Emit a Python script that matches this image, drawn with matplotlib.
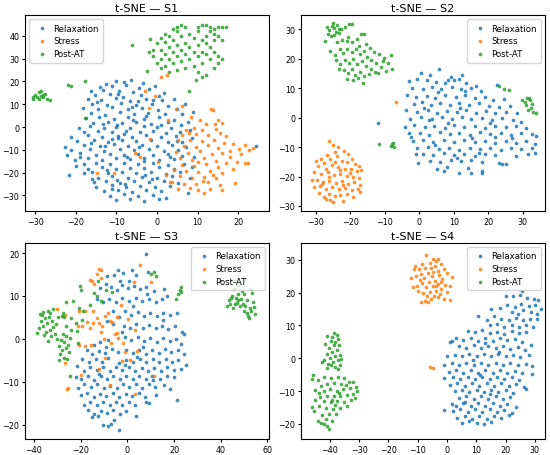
import matplotlib.pyplot as plt
import numpy as np

# t-SNE embeddings, one list of (x, y) per class and subject
labels = ["Relaxation", "Stress", "Post-AT"]
colors = ["tab:blue", "tab:orange", "tab:green"]

s1_relax = [
    (-10.2, 20.4), (-8.1, 19.7), (-6.3, 20.8), (-3.4, 19.2), (-12.5, 18.9), (-14.1, 17.6), (-11.0, 17.9), (-7.6, 18.3),
    (-4.5, 17.1), (-0.6, 18.2), (-16.3, 15.8), (-13.2, 16.4), (-9.4, 16.0), (-5.8, 15.5), (-2.1, 16.7), (1.8, 15.1),
    (-15.2, 13.9), (-11.7, 14.6), (-8.3, 13.2), (-3.9, 14.1), (0.4, 13.6), (-17.1, 12.2), (-13.8, 11.8), (-10.1, 12.7),
    (-6.7, 11.5), (-2.8, 12.4), (1.3, 11.9), (4.2, 12.3), (-16.0, 10.1), (-12.4, 9.6), (-8.8, 10.5), (-5.2, 9.8),
    (-1.3, 10.3), (2.7, 9.4), (6.8, 10.2), (-18.3, 8.4), (-14.6, 7.7), (-11.2, 8.6), (-7.1, 7.9), (-3.7, 8.3),
    (0.2, 7.6), (4.8, 8.1), (8.9, 6.7), (-16.2, 6.1), (-12.7, 5.4), (-9.2, 6.4), (-5.6, 5.7), (-2.2, 6.3),
    (1.9, 5.5), (6.1, 5.9), (-17.6, 3.8), (-14.2, 4.3), (-10.6, 3.5), (-7.2, 4.2), (-3.1, 3.7), (0.6, 4.4),
    (4.1, 3.3), (7.6, 2.4), (-15.7, 1.8), (-12.1, 2.4), (-8.6, 1.6), (-5.1, 2.2), (-1.6, 1.5), (2.6, 2.1),
    (5.9, 0.8), (-19.2, -0.3), (-16.6, 0.4), (-13.1, -0.5), (-10.1, 0.2), (-6.6, -0.4), (-3.2, 0.3), (0.1, -0.2),
    (3.4, -0.6), (8.1, -1.2), (-18.1, -2.2), (-14.6, -1.6), (-11.1, -2.4), (-7.6, -1.8), (-4.1, -2.3), (-1.1, -1.7),
    (2.1, -2.5), (5.6, -2.1), (-21.2, -4.3), (-17.1, -3.7), (-13.6, -4.4), (-9.6, -3.8), (-6.1, -4.2), (-2.6, -3.6),
    (1.1, -4.5), (4.6, -3.9), (8.6, -4.8), (-19.6, -6.2), (-15.6, -5.6), (-12.1, -6.4), (-8.6, -5.7), (-5.1, -6.3),
    (-1.6, -5.8), (2.6, -6.4), (6.1, -6.6), (-22.6, -8.6), (-18.1, -7.8), (-14.1, -8.4), (-10.6, -7.6), (-7.1, -8.3),
    (-3.6, -7.7), (0.1, -8.5), (3.6, -7.9), (7.1, -8.8), (-21.1, -10.3), (-16.6, -9.6), (-13.1, -10.4), (-9.1, -9.8),
    (-5.6, -10.2), (-2.1, -9.6), (1.6, -10.5), (5.1, -9.9), (-22.1, -12.2), (-19.1, -11.6), (-15.1, -12.4), (-11.6, -11.8),
    (-8.1, -12.3), (-4.6, -11.7), (-1.1, -12.5), (2.6, -11.9), (6.1, -12.6), (9.1, -13.2), (-20.1, -14.3), (-17.1, -13.7),
    (-13.6, -14.4), (-10.1, -13.8), (-6.6, -14.2), (-3.1, -13.6), (0.6, -14.5), (4.1, -13.9), (-18.1, -16.2), (-15.1, -15.6),
    (-11.6, -16.4), (-8.1, -15.8), (-4.6, -16.3), (-1.1, -15.7), (2.6, -16.5), (6.6, -16.1), (-17.1, -18.3), (-13.6, -17.7),
    (-10.1, -18.4), (-6.6, -17.8), (-3.1, -18.2), (0.6, -17.6), (4.1, -18.5), (8.6, -17.4), (-21.6, -21.0), (-16.1, -19.6),
    (-12.1, -20.4), (-8.6, -19.8), (-5.1, -20.3), (-1.6, -19.7), (2.1, -20.5), (5.6, -19.9), (-14.6, -22.2), (-11.1, -21.6),
    (-7.1, -22.4), (-3.6, -21.8), (0.1, -22.3), (3.6, -21.7), (8.1, -22.6), (-15.6, -24.3), (-12.6, -23.7), (-9.1, -24.4),
    (-5.6, -23.8), (-2.1, -24.2), (1.6, -23.6), (5.1, -24.5), (-15.1, -26.2), (-11.1, -25.6), (-7.6, -26.4), (-4.1, -25.8),
    (-0.6, -26.3), (3.1, -25.7), (-13.1, -28.3), (-9.6, -27.7), (-6.1, -28.4), (-2.6, -27.8), (1.1, -28.2), (7.6, -28.9),
    (-11.6, -30.2), (-8.1, -29.6), (-4.6, -30.4), (-1.1, -29.8), (2.1, -31.3), (-10.1, -32.1), (-6.6, -31.6), (-3.1, -32.4),
    (0.6, -31.7), (24.3, -8.4), (-9.5, -5.0), (-3.0, -21.0), (-6.0, 3.0), (-11.0, -27.0), (-18.0, -20.0), (-20.0, -17.0),
    (-16.0, -23.0), (-9.8, 1.1), (-4.4, -8.9), (-12.8, -8.2), (-7.4, -13.1), (0.9, 0.9), (-2.6, 5.0), (-9.9, -23.1),
    (-14.9, 10.9), (-9.7, 14.4), (-6.1, 8.9), (-0.9, 11.7), (-13.4, 1.2), (-8.2, -2.9), (-16.3, -7.1), (-3.3, -15.1),
    (3.3, -13.2), (-19.1, -13.0), (-12.4, -18.9), (-7.9, -25.2), (-1.3, -23.0), (4.9, -6.0), (-11.2, -5.1), (-4.8, 11.3),
]
s1_stress = [
    (13.2, 8.1), (13.7, 7.6), (8.3, 4.6), (10.6, 3.1), (15.1, 3.2), (16.1, 1.8), (12.1, 1.5), (9.1, -0.5),
    (11.1, -1.3), (14.6, -0.8), (7.2, -1.2), (6.1, -3.4), (9.6, -3.1), (12.6, -3.6), (15.6, -2.8), (17.1, -4.1),
    (5.1, -5.9), (8.1, -5.5), (11.1, -6.2), (14.1, -5.7), (16.6, -6.8), (6.6, -8.3), (9.6, -8.8), (12.6, -8.1),
    (15.1, -9.3), (18.6, -7.6), (20.1, -9.5), (21.6, -8.1), (22.6, -10.1), (23.6, -9.1), (20.6, -11.8), (4.6, -10.8),
    (7.6, -11.3), (10.6, -10.6), (13.6, -11.9), (16.1, -11.2), (18.1, -13.1), (5.6, -13.8), (8.6, -14.3), (11.6, -13.6),
    (14.6, -14.8), (17.1, -15.9), (19.6, -15.2), (21.6, -15.8), (22.3, -15.6), (6.1, -16.6), (9.1, -17.1), (12.1, -16.4),
    (15.1, -17.6), (4.1, -18.9), (7.1, -19.4), (10.1, -19.8), (13.1, -19.1), (16.1, -20.3), (18.6, -18.6), (5.6, -21.6),
    (8.6, -22.3), (11.6, -21.8), (14.6, -22.6), (3.6, -24.1), (6.6, -24.8), (9.6, -25.1), (12.6, -24.3), (15.6, -25.6),
    (19.1, -24.6), (5.1, -27.3), (10.1, -27.8), (11.6, -29.1), (13.1, -27.2), (16.1, -27.5), (8.1, -26.8),
    (-2.9, 15.6), (-2.1, 8.3), (-0.5, 13.4), (1.1, 21.9), (2.4, 22.9), (4.6, 7.8), (6.1, 9.4), (-10.6, -20.2),
    (-14.7, -20.2), (-4.1, -13.0), (-5.4, -11.5), (2.1, -21.0), (3.2, -24.0), (0.3, -15.5), (-1.8, -5.2), (2.8, 3.0),
    (10.2, -15.4), (13.9, -20.9), (7.9, -2.6), (17.9, -10.4), (11.3, -23.5), (14.3, 1.4),
]
s1_post = [
    (2, 41), (4, 43), (5, 44), (6, 45), (7, 44), (5, 42), (3, 40), (1, 39), (0, 37), (2, 37.5), (4, 38), (6, 40),
    (8, 41), (9, 39), (7, 37), (5, 36), (3, 35), (1, 34), (2, 32), (4, 33), (6, 34), (8, 35), (10, 36), (11, 38),
    (12, 40), (10, 42), (10, 44), (11, 45), (12, 45), (13, 44), (14, 43), (15, 44), (16, 44), (17, 44), (14, 41),
    (13, 42), (15, 40), (16, 38), (14, 38), (12, 37), (13, 35), (11, 33), (9, 33), (7, 32), (5, 31), (3, 30),
    (1, 30), (-1, 31), (-2, 33), (0, 28), (2, 27), (4, 28), (6, 29), (8, 30), (10, 31), (12, 32), (14, 33),
    (15, 31), (16, 30), (13, 30), (11, 28), (9, 27), (7, 26), (5, 25), (3, 24), (1, 26), (10, 24), (11, 22),
    (12, 23), (14, 26), (15, 28), (-1.7, 38.5), (-6.2, 35.8), (-2.4, 24.4), (-0.9, 33.9), (9.5, 20.6), (7.8, 15.8),
    (-30.5, 13.0), (-30.0, 14.0), (-29.5, 13.0), (-29.0, 15.5), (-28.5, 16.0), (-28.0, 14.0), (-28.0, 13.0),
    (-27.0, 12.5), (-26.5, 12.0), (-27.5, 14.5), (-29.0, 12.5), (-30.5, 12.5), (-28.5, 13.5),
    (-21.2, 18.0), (-22.0, 18.5), (-17.8, 20.3), (-17.7, 3.9),
]

s2_relax = [
    (0.4, 15.1), (3.1, 14.6), (5.6, 16.3), (9.1, 13.9), (12.3, 14.3), (11.6, 13.1), (-3.1, 12.4), (-0.6, 13.1),
    (2.1, 12.6), (4.9, 12.1), (7.6, 11.6), (10.1, 12.9), (13.6, 11.8), (16.4, 10.6), (-2.1, 10.1), (1.1, 9.6),
    (3.8, 10.4), (6.4, 9.8), (9.4, 10.3), (12.1, 9.6), (14.9, 10.1), (17.9, 8.9), (22.6, 10.9), (-3.6, 7.6),
    (-0.9, 6.9), (2.1, 7.4), (4.6, 6.8), (7.4, 7.6), (10.6, 6.9), (13.4, 7.5), (16.1, 6.6), (19.1, 7.1),
    (21.4, 5.9), (24.6, 6.4), (-1.6, 4.6), (0.9, 5.3), (3.4, 4.2), (6.1, 4.9), (8.9, 4.3), (11.6, 5.1),
    (14.4, 4.4), (17.4, 4.9), (20.1, 3.8), (23.1, 3.6), (26.4, 3.9), (-3.9, 2.4), (-0.6, 1.9), (2.4, 2.6),
    (5.1, 1.6), (7.9, 2.3), (10.9, 1.8), (13.6, 2.5), (16.6, 1.6), (19.4, 2.1), (22.1, 1.4), (25.1, 1.9),
    (28.4, 1.6), (-2.6, -0.4), (0.6, 0.3), (3.6, -0.6), (6.6, 0.1), (9.4, -0.5), (12.4, 0.2), (15.1, -0.6),
    (18.1, -0.1), (21.1, -0.7), (24.1, -0.3), (27.1, -0.8), (29.6, -1.6), (-4.1, -3.1), (-1.4, -2.6), (1.6, -3.3),
    (4.4, -2.7), (7.4, -3.4), (10.1, -2.6), (13.1, -3.2), (16.1, -2.7), (19.1, -3.4), (22.1, -2.8), (25.1, -3.3),
    (28.1, -3.0), (30.9, -3.6), (-3.1, -5.4), (0.1, -5.1), (2.9, -5.8), (5.9, -4.9), (8.9, -5.6), (11.6, -5.2),
    (14.6, -5.9), (17.6, -5.0), (20.6, -5.7), (23.6, -5.1), (26.6, -5.8), (29.6, -5.3), (32.6, -5.6), (33.9, -6.1),
    (-1.9, -8.1), (1.1, -7.6), (4.1, -8.4), (7.1, -7.7), (10.1, -8.3), (13.1, -7.6), (16.1, -8.4), (19.1, -7.8),
    (22.1, -8.5), (25.1, -7.9), (28.1, -8.6), (31.1, -8.1), (33.6, -8.9), (-0.6, -10.4), (2.6, -10.1), (5.6, -10.8),
    (8.6, -10.2), (11.6, -10.9), (14.6, -10.3), (17.6, -10.8), (20.6, -10.4), (23.6, -10.9), (26.6, -10.3), (29.6, -10.8),
    (32.6, -10.4), (1.1, -12.3), (4.1, -12.8), (7.1, -12.1), (10.1, -12.7), (13.1, -12.2), (16.1, -12.9), (19.1, -12.3),
    (22.1, -12.6), (28.1, -12.9), (31.6, -12.4), (33.6, -12.1), (-0.4, -15.3), (3.1, -14.6), (6.1, -15.1), (9.1, -14.3),
    (12.1, -14.9), (15.1, -14.4), (18.1, -15.1), (23.1, -15.3), (24.1, -15.9), (25.1, -15.6), (5.1, -17.6), (8.1, -16.9),
    (11.6, -18.9), (14.1, -17.1), (15.1, -18.7), (18.1, -18.1), (18.3, -18.9), (7.1, -18.1), (-12.1, -1.8),
    (1.5, 3.4), (8.3, -1.9), (15.4, -6.9), (20.4, -1.7), (4.7, -9.4), (11.9, 3.3), (26.9, -6.9), (-2.4, -6.7),
    (5.3, 8.8), (10.8, -13.7), (17.2, -12.0), (21.9, -6.6), (2.9, -0.9), (13.3, 9.0), (8.2, 12.9), (-0.9, -12.2),
]
s2_stress = [
    (-26.1, -8.1), (-25.1, -9.4), (-23.6, -10.1), (-21.9, -11.2), (-20.6, -12.4), (-24.6, -11.6), (-26.9, -12.8),
    (-28.6, -14.1), (-30.1, -14.6), (-27.6, -15.3), (-25.9, -13.9), (-23.9, -13.1), (-22.4, -14.6), (-20.9, -15.1),
    (-19.4, -14.2), (-18.6, -15.9), (-17.6, -16.6), (-29.4, -16.6), (-27.1, -17.3), (-25.4, -16.1), (-23.6, -16.9),
    (-21.6, -17.3), (-19.9, -17.6), (-18.1, -18.1), (-16.9, -17.9), (-30.6, -18.6), (-28.4, -19.1), (-26.6, -18.6),
    (-24.9, -19.6), (-22.9, -19.1), (-21.1, -19.9), (-19.1, -20.1), (-17.6, -20.6), (-31.1, -21.3), (-29.6, -21.1),
    (-27.9, -21.9), (-26.1, -21.4), (-24.1, -22.1), (-22.4, -21.6), (-20.6, -22.4), (-18.9, -21.9), (-17.3, -22.8),
    (-30.6, -23.6), (-28.9, -23.1), (-27.1, -24.1), (-25.4, -23.6), (-23.4, -24.4), (-21.6, -23.9), (-19.6, -24.6),
    (-17.9, -24.1), (-17.1, -25.4), (-29.1, -25.6), (-27.6, -26.9), (-26.1, -26.1), (-24.6, -26.6), (-22.9, -26.4),
    (-20.9, -26.1), (-19.1, -26.9), (-25.9, -28.1), (-25.1, -28.6), (-22.1, -28.3), (-27.1, -27.6), (-6.9, 5.2),
    (-24.4, -15.0), (-20.2, -18.8), (-26.3, -20.2), (-22.0, -23.0), (-28.2, -22.6), (-23.0, -17.8),
]
s2_post = [
    (-27.3, 26.1), (-26.6, 28.3), (-26.1, 29.6), (-25.4, 31.2), (-24.8, 30.4), (-23.9, 31.5), (-23.2, 30.1),
    (-24.2, 29.1), (-25.6, 27.6), (-24.7, 27.9), (-23.4, 28.6), (-22.6, 29.9), (-26.8, 30.7), (-25.1, 32.1),
    (-20.3, 31.8), (-19.6, 31.9), (-21.5, 30.8), (-23.9, 25.6), (-22.4, 26.2), (-21.1, 25.9), (-19.4, 25.7),
    (-20.6, 27.3), (-18.1, 26.5), (-16.9, 28.3), (-16.1, 28.2), (-17.6, 24.4), (-15.4, 24.9), (-14.2, 23.7),
    (-13.1, 22.1), (-11.6, 21.6), (-10.3, 20.2), (-8.3, 21.1), (-9.1, 18.6), (-7.9, 16.4), (-9.6, 15.8),
    (-11.2, 17.1), (-25.9, 22.6), (-24.6, 21.3), (-23.1, 23.1), (-22.1, 21.8), (-20.9, 23.4), (-19.6, 22.1),
    (-18.4, 23.1), (-17.1, 21.4), (-16.1, 22.5), (-15.1, 20.4), (-13.9, 19.6), (-12.6, 18.4), (-24.1, 19.4),
    (-22.9, 18.1), (-21.6, 19.6), (-20.3, 18.6), (-19.1, 19.9), (-18.1, 18.1), (-16.6, 19.1), (-15.4, 17.6),
    (-14.1, 16.4), (-12.9, 15.6), (-23.4, 16.6), (-21.9, 16.1), (-20.6, 15.1), (-19.4, 16.6), (-18.6, 14.6),
    (-17.1, 15.6), (-16.1, 14.1), (-14.6, 14.9), (-21.1, 13.1), (-19.1, 12.8), (-16.3, 11.6), (-17.9, 13.4),
    (-12.1, 15.1), (-10.6, 19.1), (-11.6, -9.1), (-8.3, -9.6), (-7.6, -8.6), (-7.9, -9.1), (-7.4, -10.1),
    (23.1, 10.6), (24.6, 9.6), (26.1, 9.2), (29.9, 6.1), (30.6, 5.3), (31.4, 6.5), (32.1, 5.8), (31.1, 4.2),
    (32.3, 3.4), (31.6, 2.6), (32.9, 1.9), (33.8, 1.4), (32.6, 4.6), (31.9, 6.8),
]

s3_relax = [
    (7.9, 19.7), (-4.1, 16.1), (-5.6, 14.9), (-3.1, 13.6), (-1.9, 15.4), (0.6, 13.4), (3.6, 14.9), (8.9, 15.6),
    (-8.6, 14.6), (1.9, 16.1), (-11.6, 11.9), (-9.1, 12.8), (-6.9, 12.1), (-4.6, 11.5), (-2.4, 12.6), (0.1, 11.8),
    (2.9, 12.4), (5.6, 11.6), (8.1, 12.2), (11.4, 11.1), (15.9, 11.6), (-13.1, 9.4), (-10.6, 8.6), (-7.9, 9.4),
    (-4.9, 8.7), (-2.1, 9.6), (0.9, 8.9), (3.6, 9.6), (6.4, 8.8), (9.1, 9.4), (12.1, 8.6), (14.9, 9.3),
    (17.1, 9.9), (-6.1, 6.4), (-3.6, 5.1), (-0.9, 6.4), (1.6, 5.6), (4.4, 6.3), (7.1, 5.4), (9.9, 6.1),
    (12.6, 5.3), (15.4, 6.1), (18.1, 5.6), (21.1, 6.1), (-8.6, 4.1), (-5.9, 3.4), (-1.6, 3.1), (1.1, 2.6),
    (3.9, 3.4), (6.6, 2.6), (9.4, 3.3), (12.1, 2.5), (14.9, 3.1), (17.6, 2.4), (20.4, 3.1), (23.6, 1.6),
    (24.1, 1.1), (-14.1, -1.4), (-11.6, -0.6), (-8.1, -0.3), (-1.1, 0.4), (1.6, -0.3), (4.4, 0.5), (7.1, -0.4),
    (9.9, 0.3), (12.6, -0.6), (15.4, 0.2), (18.1, -0.5), (20.9, 0.1), (23.1, -1.1), (-17.1, -2.6), (-14.9, -3.4),
    (-12.1, -2.7), (-9.4, -3.2), (-6.6, -2.4), (-3.9, -3.1), (-0.6, -2.6), (2.4, -3.3), (5.1, -2.5), (7.9, -3.4),
    (10.6, -2.6), (13.4, -3.3), (16.1, -2.4), (18.9, -3.1), (21.6, -2.6), (24.4, -3.4), (-19.4, -4.6), (-16.4, -5.4),
    (-13.6, -4.6), (-10.9, -5.3), (-8.1, -4.4), (-3.4, -5.6), (-0.4, -4.8), (2.4, -5.4), (5.4, -4.6), (8.1, -5.3),
    (10.9, -4.6), (13.6, -5.4), (16.4, -4.7), (19.1, -5.3), (21.9, -4.8), (25.1, -6.1), (-21.4, -6.3), (-18.6, -7.4),
    (-15.9, -6.6), (-13.1, -7.3), (-10.4, -6.6), (-7.6, -7.4), (-4.9, -6.6), (-2.1, -7.3), (0.6, -6.5), (3.4, -7.4),
    (6.1, -6.7), (8.9, -7.5), (11.6, -6.8), (14.4, -7.4), (17.1, -6.6), (19.9, -7.3), (23.1, -7.1), (-22.1, -8.9),
    (-19.6, -9.4), (-16.9, -8.6), (-14.1, -9.5), (-11.4, -8.7), (-8.6, -9.3), (-5.9, -8.6), (-3.1, -9.4), (-0.4, -8.7),
    (2.4, -9.3), (5.1, -8.6), (7.9, -9.4), (10.6, -8.7), (14.1, -9.3), (16.9, -8.6), (20.1, -8.9), (-21.1, -11.4),
    (-18.4, -10.6), (-15.6, -11.3), (-12.9, -10.5), (-10.1, -11.4), (-7.4, -10.9), (-4.6, -11.5), (-1.9, -10.6), (0.9, -11.3),
    (3.6, -10.5), (6.4, -11.4), (9.1, -10.6), (11.9, -11.2), (15.6, -10.8), (18.1, -11.6), (-19.9, -13.1), (-17.1, -12.6),
    (-14.4, -13.4), (-11.6, -12.7), (-8.9, -13.3), (-6.1, -12.6), (-3.4, -13.4), (-0.6, -12.7), (2.1, -13.3), (4.9, -12.6),
    (7.6, -13.4), (12.1, -13.1), (21.1, -14.1), (-18.6, -15.4), (-15.9, -14.6), (-13.1, -15.3), (-10.4, -14.6), (-7.6, -15.4),
    (-4.9, -14.7), (-2.1, -15.4), (0.6, -14.6), (3.4, -15.3), (7.9, -14.6), (9.4, -14.9), (-16.9, -16.6), (-14.1, -17.4),
    (-11.4, -16.7), (-8.6, -17.3), (-5.9, -16.6), (-3.1, -17.4), (-0.4, -16.7), (3.6, -17.9), (-15.1, -18.1), (-12.4, -17.9),
    (-10.4, -20.1), (-8.1, -20.3), (-7.1, -19.9), (-3.6, -21.3), (-5.6, -18.9), (2.6, 7.6), (-2.4, 1.6), (6.9, -1.9),
    (11.1, -9.6), (-9.3, -1.9), (15.3, 4.4), (-1.1, -6.1), (4.3, -4.1), (-12.3, -8.1), (8.4, 10.4),
]
s3_stress = [
    (-12.1, 16.3), (-11.4, 16.1), (-12.9, 15.1), (-11.1, 14.3), (-15.9, 13.7), (-15.1, 13.5), (-14.4, 12.9), (5.6, 17.1),
    (10.3, 13.3), (2.7, 13.3), (-30.3, 6.9), (-26.7, 5.6), (-20.5, 6.4), (-14.5, 6.4), (-14.5, 3.7), (-10.9, 3.1),
    (-7.3, 4.1), (-9.5, 5.4), (-4.4, 1.4), (-3.8, 0.3), (-1.9, -0.9), (-21.0, 2.9), (-19.5, 3.0), (-20.5, -1.3),
    (-15.6, -1.3), (-26.7, -5.5), (-26.0, -11.6), (-25.4, -11.4), (-19.8, -8.3), (4.1, -2.8), (1.3, -5.0), (11.3, -8.7),
    (3.4, -12.7), (-7.3, -10.8), (-12.1, -6.9), (0.1, 4.6), (3.1, 2.1), (-6.4, 3.9), (-11.1, 1.6), (-17.4, 3.9),
    (-13.1, 4.9), (-6.9, -0.9), (-1.1, -3.1), (-9.6, -4.4), (-4.4, 5.2), (-2.6, 7.9), (-18.1, -1.6), (-8.1, 6.1),
    (-5.1, 1.1), (-10.1, 0.1), (-16.1, 2.6), (-18.1, 6.4), (-12.1, 3.6), (-2.1, -5.1),
]
s3_post = [
    (-38.7, 1.4), (-37.9, 2.6), (-37.1, 4.1), (-36.6, 5.6), (-35.9, 6.3), (-35.1, 4.9), (-34.4, 3.6), (-33.6, 5.1),
    (-32.9, 6.1), (-32.1, 4.2), (-31.6, 2.8), (-33.1, 2.1), (-34.9, 1.6), (-36.1, 2.9), (-35.6, 0.9), (-33.9, -0.4),
    (-32.6, 0.6), (-31.1, 1.2), (-30.4, 3.4), (-29.6, 5.1), (-31.9, 6.9), (-34.1, 6.6), (-37.4, 5.9), (-30.1, 0.1),
    (-29.1, -1.6), (-28.4, -0.3), (-27.6, 1.1), (-26.9, -0.6), (-26.1, 0.6), (-25.4, -1.4), (-24.6, 0.2), (-27.9, -2.6),
    (-26.4, -2.1), (-25.1, -3.1), (-28.6, -3.6), (-29.4, -4.9), (-27.1, -4.4), (-25.9, -4.6), (-26.4, 2.9), (-24.1, 2.1),
    (-28.1, 5.4), (-26.9, 5.1), (-27.6, 6.1), (-26.1, 8.6), (-23.9, 4.9), (-22.1, 3.6), (-21.4, 1.9), (-20.6, 7.1),
    (-19.1, 6.6), (-19.4, 4.4), (-23.1, 8.9), (-20.1, 12.4), (-19.9, 11.3), (-14.1, 10.6), (-12.9, 9.9), (-11.1, 8.9),
    (-9.1, 11.4), (-6.4, 10.9), (-15.9, 7.9), (-21.1, -0.9), (-24.4, -8.6), (-12.6, 13.6), (10.1, 15.1), (11.6, 15.6),
    (12.1, 14.6), (20.9, 9.2), (21.9, 10.4), (22.9, 10.9), (23.1, 12.1), (22.4, 11.5), (42.6, 7.6), (43.6, 9.1),
    (44.1, 8.1), (44.9, 10.1), (45.4, 7.1), (45.9, 11.6), (45.6, 13.6), (46.4, 9.6), (46.9, 8.4), (47.4, 10.4),
    (47.9, 12.6), (48.1, 7.6), (48.6, 9.4), (49.1, 11.1), (49.6, 8.1), (49.9, 6.4), (50.6, 7.6), (51.1, 6.1),
    (51.4, 9.1), (51.9, 5.4), (52.4, 7.1), (52.9, 6.4), (53.4, 10.6), (53.9, 8.6), (54.4, 7.4), (54.6, 5.9),
    (53.1, 11.6), (52.1, 4.9), (46.1, 8.1), (44.6, 9.6), (47.6, 9.1), (50.1, 10.4),
]

s4_relax = [
    (25.6, 20.6), (20.1, 19.1), (22.6, 18.9), (24.9, 19.2), (27.4, 18.4), (29.6, 18.1), (31.1, 17.6), (18.1, 15.4),
    (20.6, 16.1), (23.1, 15.6), (25.4, 16.4), (27.9, 15.9), (30.1, 16.3), (32.1, 15.1), (15.1, 15.1), (26.1, 14.6),
    (22.1, 14.1), (28.6, 14.1), (24.1, 13.4), (30.9, 13.6), (10.6, 12.9), (13.6, 11.6), (16.1, 12.9), (18.6, 12.1),
    (21.1, 11.6), (23.6, 12.4), (26.1, 11.6), (28.4, 12.1), (30.6, 11.9), (14.6, 10.1), (17.1, 10.4), (19.6, 9.6),
    (22.1, 10.1), (24.6, 9.4), (27.1, 10.1), (29.4, 9.6), (7.1, 8.4), (9.6, 7.9), (12.1, 8.6), (14.6, 7.6),
    (17.1, 8.1), (19.6, 7.4), (22.1, 8.3), (24.6, 7.6), (27.1, 7.9), (3.1, 6.1), (5.6, 5.6), (8.1, 6.1),
    (10.6, 5.4), (13.1, 6.1), (15.6, 5.4), (18.1, 6.1), (20.6, 5.6), (23.1, 5.9), (25.6, 4.9), (28.6, 4.1),
    (1.6, 5.4), (1.1, 4.9), (4.1, 3.6), (6.6, 3.1), (9.1, 3.9), (11.6, 3.1), (14.1, 3.8), (16.6, 3.1),
    (19.1, 3.6), (21.6, 2.9), (24.1, 3.4), (26.6, 2.6), (0.1, 0.6), (2.6, 1.1), (5.1, 0.6), (7.6, 1.4),
    (10.1, 0.6), (12.6, 1.3), (15.1, 0.6), (17.6, 1.4), (20.1, 0.6), (22.6, 1.1), (25.1, 0.4), (27.9, 0.9),
    (-1.1, -1.9), (1.6, -1.4), (4.1, -2.1), (6.6, -1.4), (9.1, -2.1), (11.6, -1.3), (14.1, -2.1), (16.6, -1.4),
    (19.1, -2.1), (21.6, -1.4), (24.1, -2.1), (26.9, -1.6), (29.1, -2.4), (0.6, -4.1), (3.1, -3.6), (5.6, -4.4),
    (8.1, -3.6), (10.6, -4.4), (13.1, -3.6), (15.6, -4.4), (18.1, -3.6), (20.6, -4.4), (23.1, -3.9), (25.6, -4.6),
    (28.9, -4.9), (-0.9, -6.1), (2.1, -5.6), (4.6, -6.4), (7.1, -5.6), (9.6, -6.4), (12.1, -5.6), (14.6, -6.4),
    (17.1, -5.6), (19.6, -6.4), (22.1, -5.7), (24.6, -6.6), (1.1, -8.1), (3.6, -7.6), (6.1, -8.4), (8.6, -7.6),
    (11.1, -8.4), (13.6, -7.6), (16.1, -8.4), (18.6, -7.6), (21.1, -8.4), (23.6, -7.9), (26.4, -8.6), (27.1, -9.4),
    (2.6, -10.1), (5.1, -9.6), (7.6, -10.4), (10.1, -9.6), (12.6, -10.4), (15.1, -9.6), (17.6, -10.4), (20.1, -9.7),
    (22.6, -10.6), (4.1, -12.1), (6.6, -11.6), (9.1, -12.4), (11.6, -11.6), (14.1, -12.4), (16.6, -11.6), (19.1, -12.4),
    (21.6, -11.9), (1.6, -13.9), (3.1, -14.6), (5.6, -13.6), (8.1, -14.4), (10.6, -13.6), (13.1, -14.4), (15.6, -13.6),
    (18.1, -14.4), (20.6, -13.9), (23.6, -14.9), (-0.9, -15.9), (2.1, -16.1), (4.6, -15.6), (7.1, -16.4), (9.6, -15.6),
    (12.1, -16.4), (14.6, -15.6), (17.1, -16.4), (19.6, -15.9), (22.1, -16.6), (3.6, -18.1), (6.1, -17.6), (8.6, -18.4),
    (11.1, -17.6), (13.6, -18.4), (16.1, -17.6), (18.6, -18.1), (21.1, -17.4), (5.1, -19.6), (7.6, -19.1), (10.1, -19.6),
    (12.6, -19.9), (15.1, -19.4), (11.3, -5.1), (14.8, -10.9), (8.9, -0.4), (17.9, 1.9), (6.3, -13.2), (12.9, 4.6),
]
s4_stress = [
    (-7.1, 31.6), (-4.9, 30.3), (-3.6, 29.6), (-2.9, 30.1), (-5.9, 29.1), (-8.4, 28.6), (-10.9, 28.1), (-11.4, 27.2),
    (-9.6, 27.1), (-7.6, 27.4), (-5.6, 27.6), (-4.1, 28.1), (-2.1, 28.6), (-1.1, 27.1), (-3.1, 26.6), (-6.6, 26.1),
    (-8.9, 25.6), (-10.4, 25.1), (-12.1, 24.6), (-7.9, 24.4), (-5.1, 25.1), (-2.6, 25.4), (-0.1, 25.9), (1.6, 24.9),
    (-1.6, 24.1), (-4.1, 23.6), (-6.1, 23.1), (-8.6, 22.9), (-10.1, 22.1), (-11.6, 21.6), (-7.1, 21.6), (-4.9, 22.1),
    (-2.9, 22.6), (-0.6, 22.4), (0.9, 21.9), (-1.9, 21.1), (-3.9, 20.6), (-5.9, 20.1), (-8.1, 19.9), (-9.9, 20.6),
    (-4.4, 19.1), (-2.4, 19.6), (-0.1, 20.1), (-3.1, 18.6), (-5.4, 18.1), (-7.4, 17.4), (-8.9, 17.1), (-6.4, 17.1),
    (-1.1, 18.1), (0.9, 17.9), (-3.6, 21.9), (-6.9, 19.1), (-9.1, 23.9), (-2.1, 23.1), (-4.6, 26.4), (-5.9, -2.8),
    (-4.9, -2.9),
]
s4_post = [
    (-38.6, 7.6), (-37.6, 7.1), (-39.1, 6.6), (-40.9, 6.9), (-37.1, 5.9), (-38.1, 5.1), (-39.6, 5.4), (-41.6, 4.4),
    (-36.9, 4.1), (-38.6, 3.9), (-40.1, 3.1), (-37.6, 2.6), (-39.1, 1.9), (-41.1, 1.4), (-36.6, 1.1), (-38.1, 0.6),
    (-39.9, 0.1), (-42.1, -0.4), (-37.1, -0.6), (-38.9, -1.1), (-40.6, -1.6), (-42.6, -1.1), (-36.4, -1.9), (-38.1, -2.6),
    (-39.6, -2.1), (-37.1, -3.4), (-41.1, -3.1), (-36.1, -0.1), (-45.6, -5.1), (-46.1, -6.4), (-44.1, -6.6), (-41.9, -5.6),
    (-39.6, -5.9), (-37.1, -5.6), (-35.1, -6.1), (-33.6, -7.1), (-36.1, -7.9), (-38.6, -7.6), (-40.9, -7.9), (-43.1, -8.4),
    (-45.1, -9.6), (-42.1, -9.9), (-39.9, -9.4), (-37.6, -9.9), (-35.4, -9.4), (-33.1, -9.1), (-31.1, -8.6), (-30.6, -10.1),
    (-32.1, -10.9), (-34.1, -11.1), (-36.4, -11.6), (-38.6, -11.4), (-40.9, -11.6), (-43.4, -11.9), (-44.9, -12.6), (-42.1, -13.1),
    (-39.6, -13.4), (-37.4, -13.1), (-35.1, -13.4), (-32.9, -12.6), (-31.4, -12.1), (-34.1, -14.6), (-36.6, -15.1), (-38.9, -15.4),
    (-41.4, -15.1), (-43.6, -14.6), (-45.9, -14.9), (-45.4, -16.1), (-40.1, -16.9), (-37.9, -17.1), (-42.6, -17.4), (-44.1, -19.1),
    (-42.9, -19.6), (-41.9, -20.1), (-40.9, -20.6), (-40.4, -21.6), (-41.4, -18.6), (-39.4, -19.1), (-43.6, -10.6), (-36.9, -10.6),
    (-39.1, -12.6), (-34.6, -8.1), (-32.1, -7.1), (-38.1, -14.1),
]

panels = [
    ("t-SNE — S1", [s1_relax, s1_stress, s1_post], "upper left", (-32.6, 27.6), (-37, 49.2)),
    ("t-SNE — S2", [s2_relax, s2_stress, s2_post], "upper right", (-34.4, 36.5), (-31.8, 34.8)),
    ("t-SNE — S3", [s3_relax, s3_stress, s3_post], "upper right", (-43.9, 60.7), (-23.3, 22.4)),
    ("t-SNE — S4", [s4_relax, s4_stress, s4_post], "upper right", (-49.9, 33.5), (-24.6, 35.2)),
]

fig, axes = plt.subplots(2, 2, figsize=(5.5, 4.56), dpi=100)
fig.subplots_adjust(left=0.045, right=0.991, bottom=0.035, top=0.965, wspace=0.13, hspace=0.16)

for ax, (title, groups, loc, xlim, ylim) in zip(axes.flat, panels):
    for pts, lab, col in zip(groups, labels, colors):
        arr = np.array(pts, dtype=float)
        ax.scatter(arr[:, 0], arr[:, 1], s=7, color=col, alpha=0.85, linewidths=0, label=lab)
    ax.set_xlim(*xlim)
    ax.set_ylim(*ylim)
    ax.set_title(title, fontsize=8, pad=3)
    ax.tick_params(labelsize=5.8, length=2.5, pad=1.5)
    ax.legend(loc=loc, fontsize=6.2, handletextpad=0.3, borderpad=0.5, labelspacing=0.45)

plt.savefig("out.png", dpi=100)
plt.close()
